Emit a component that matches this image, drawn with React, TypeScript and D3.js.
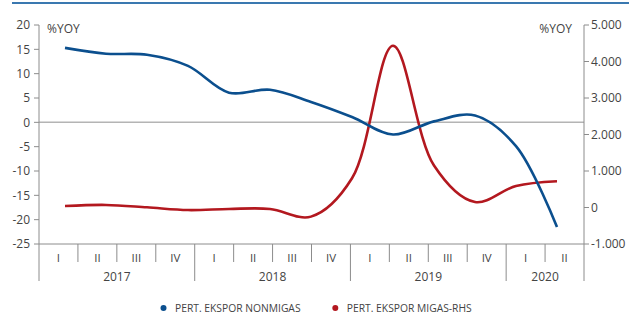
import React, { useEffect, useRef } from "react";
import * as d3 from "d3";

const quarters = ["I", "II", "III", "IV", "I", "II", "III", "IV", "I", "II", "III", "IV", "I", "II"];
const years = ["2017", "2018", "2019", "2020"];
const quartersPerYear = [4, 4, 4, 2];

// %yoy, left axis
const nonmigas = [15.3, 14.1, 13.9, 11.6, 6.1, 6.7, 4.2, 1.1, -2.5, 0.2, 1.4, -4.9, -21.5];
// %yoy, right axis
const migas = [40, 70, 5, -70, -40, -40, -250, 800, 4430, 1150, 150, 590, 720];

const leftTicks = [20, 15, 10, 5, 0, -5, -10, -15, -20, -25];
const rightTicks = [5000, 4000, 3000, 2000, 1000, 0, -1000];

const legend = [
  { name: "PERT. EKSPOR NONMIGAS", color: "#0b4f8e" },
  { name: "PERT. EKSPOR MIGAS-RHS", color: "#b3181f" },
];

const FONT = "'Open Sans', sans-serif";
const TEXT = "#444";
const AXIS = "#8c8c8c";

export default function App() {
  const ref = useRef<SVGSVGElement>(null);
  const width = 637;
  const height = 318;

  useEffect(() => {
    const svg = d3.select(ref.current);
    svg.selectAll("*").remove();

    const left = 39, right = 584, top = 25, bottom = 244;
    const locale = d3.formatLocale({ decimal: ",", thousands: ".", grouping: [3], currency: ["", ""], minus: "-" });
    const fmtR = locale.format(",");
    const fmtL = locale.format("d");

    const yL = d3.scaleLinear().domain([-25, 20]).range([bottom, top]);
    const yR = d3.scaleLinear().domain([-1000, 5000]).range([bottom, top]);
    const xBand = d3.scaleBand<number>().domain(d3.range(quarters.length)).range([left, right]);
    const xPt = d3.scalePoint<number>().domain(d3.range(nonmigas.length)).range([65, 557]);

    // top rule
    svg.append("line").attr("x1", 12).attr("x2", 629).attr("y1", 3).attr("y2", 3)
      .attr("stroke", "#3a78b0").attr("stroke-width", 2);

    // zero line
    svg.append("line").attr("x1", left).attr("x2", right).attr("y1", yL(0)).attr("y2", yL(0))
      .attr("stroke", "#b4b4b4").attr("stroke-width", 1.5);

    // left axis
    const gL = svg.append("g");
    gL.append("line").attr("x1", left).attr("x2", left).attr("y1", top).attr("y2", 281)
      .attr("stroke", AXIS);
    leftTicks.forEach(t => {
      gL.append("line").attr("x1", left - 5).attr("x2", left).attr("y1", yL(t)).attr("y2", yL(t)).attr("stroke", AXIS);
      gL.append("text").attr("x", 30).attr("y", yL(t)).attr("dy", "0.35em").attr("text-anchor", "end")
        .attr("font-size", 12).attr("font-family", FONT).attr("fill", TEXT).text(fmtL(t));
    });

    // right axis
    const gR = svg.append("g");
    gR.append("line").attr("x1", right).attr("x2", right).attr("y1", top).attr("y2", 281)
      .attr("stroke", AXIS);
    rightTicks.forEach(t => {
      gR.append("line").attr("x1", right).attr("x2", right + 5).attr("y1", yR(t)).attr("y2", yR(t)).attr("stroke", AXIS);
      gR.append("text").attr("x", 591).attr("y", yR(t)).attr("dy", "0.35em")
        .attr("font-size", 12).attr("font-family", FONT).attr("fill", TEXT).text(fmtR(t));
    });

    svg.append("text").attr("x", 47).attr("y", 33).attr("font-size", 12).attr("font-family", FONT)
      .attr("fill", TEXT).text("%YOY");
    svg.append("text").attr("x", 572).attr("y", 33).attr("text-anchor", "end").attr("font-size", 12)
      .attr("font-family", FONT).attr("fill", TEXT).text("%YOY");

    // category axis
    svg.append("line").attr("x1", left).attr("x2", right).attr("y1", bottom).attr("y2", bottom).attr("stroke", AXIS);
    const yearStarts = quartersPerYear.map((_, i) => d3.sum(quartersPerYear.slice(0, i)));
    quarters.forEach((q, i) => {
      if (i > 0) {
        const isYear = yearStarts.includes(i);
        svg.append("line").attr("x1", xBand(i)!).attr("x2", xBand(i)!)
          .attr("y1", bottom).attr("y2", isYear ? 281 : 262).attr("stroke", AXIS);
      }
      svg.append("text").attr("x", xBand(i)! + xBand.bandwidth() / 2).attr("y", 261.5)
        .attr("text-anchor", "middle").attr("font-size", 11.5).attr("font-family", FONT)
        .attr("fill", TEXT).text(q);
    });
    years.forEach((y, i) => {
      const a = xBand(yearStarts[i])!;
      const b = xBand(yearStarts[i] + quartersPerYear[i] - 1)! + xBand.bandwidth();
      svg.append("text").attr("x", (a + b) / 2).attr("y", 281).attr("text-anchor", "middle")
        .attr("font-size", 12).attr("font-family", FONT).attr("fill", TEXT).text(y);
    });

    // lines
    const lineL = d3.line<number>().x((_, i) => xPt(i)!).y(d => yL(d)).curve(d3.curveCatmullRom);
    const lineR = d3.line<number>().x((_, i) => xPt(i)!).y(d => yR(d)).curve(d3.curveCatmullRom);
    svg.append("path").datum(migas).attr("d", lineR).attr("fill", "none")
      .attr("stroke", legend[1].color).attr("stroke-width", 2.6);
    svg.append("path").datum(nonmigas).attr("d", lineL).attr("fill", "none")
      .attr("stroke", legend[0].color).attr("stroke-width", 2.6);

    // legend
    const lx = [163.5, 335.3];
    legend.forEach((l, i) => {
      svg.append("circle").attr("cx", lx[i]).attr("cy", 308).attr("r", 3).attr("fill", l.color);
      svg.append("text").attr("x", lx[i] + 11.5).attr("y", 311.5).attr("font-size", 10.3)
        .attr("font-family", FONT).attr("fill", TEXT).text(l.name);
    });
  });

  return (
    <div id="chart">
      <svg ref={ref} width={width} height={height} style={{ position: "absolute", left: 0, top: 0 }} />
    </div>
  );
}
